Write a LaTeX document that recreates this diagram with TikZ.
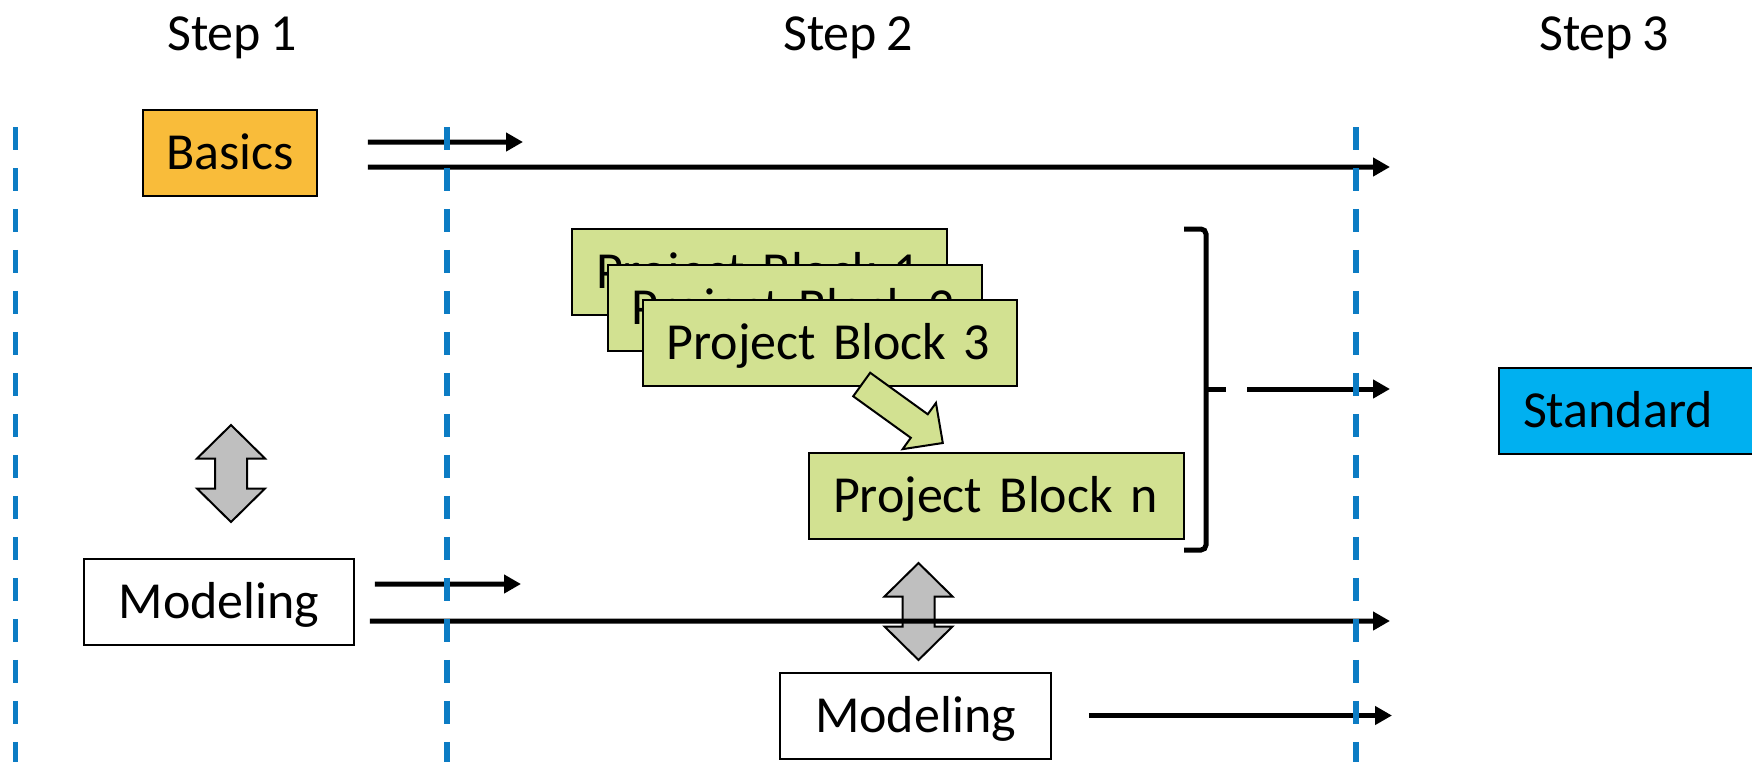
\documentclass[tikz,border=0pt]{standalone}
\usepackage{fontspec}
\setmainfont{Carlito}[WordSpace=0.8]
\usepackage{tikz}
\usetikzlibrary{arrows.meta,positioning}
\definecolor{basicsorange}{RGB}{249,188,58}
\definecolor{pbgreen}{RGB}{210,225,145}
\definecolor{stdblue}{RGB}{0,176,240}
\definecolor{stepblue}{RGB}{12,124,196}
\definecolor{dblgrey}{RGB}{191,191,191}
\tikzset{
    %Define standard arrow tip
    >={Triangle[length=3.4mm,width=3.6mm]},
    %Define style for boxes
    blok/.style={
           rectangle,
           draw=black, line width=0.04cm,
           minimum height=1.72cm,
           text height=0.87cm, text depth=0.2cm},
    projblok/.style={
           blok, fill=pbgreen,
           text width=6.54cm, inner xsep=0.48cm, align=left},
    % Define arrow style
    pil/.style={
           ->,
           line width=0.1cm},
}

\begin{document}
\begin{tikzpicture}[
x=0.02cm, y=-0.02cm,
font=\fontsize{29.6}{35}\selectfont,
steptxt/.style={text height=0.87cm, text depth=0.2cm},
stepline/.style={draw=stepblue, line width=0.11cm, dash pattern=on 0.46cm off 0.36cm},
dblpil/.style={draw=black, line width=0.04cm, fill=dblgrey},
blokpil/.style={draw=black, line width=0.04cm, fill=pbgreen},
brace/.style={line width=0.1cm, rounded corners=0.1cm}
]
\clip (0,0) rectangle (1752,762);
%Step labels
\node[steptxt] (step1) at (232,33.5) {Step 1};
\node[steptxt] (step2) at (848,33.5) {Step 2};
\node[steptxt] (step3) at (1604,33.5) {Step 3};
%Nodes
\node[blok, fill=basicsorange, minimum width=3.48cm] (basics) at (230,153) {Basics};
\node[blok, minimum width=5.4cm] (model1) at (219,602) {Modeling};
\node[blok, minimum width=5.42cm] (model2) at (915.5,715.5) {Modeling};
\node[projblok] (block1) at (759.5,272) {Project Block 1};
\node[projblok] (block2) at ([shift={(35.5,35.5)}]block1) {Project Block 2};
\node[projblok] (block3) at ([shift={(35,35)}]block2) {Project Block 3};
\draw[blokpil, shift={(861.7,384.5)}, rotate=-35.8] (0,-14.5) -- (71,-14.5) -- (71,-28.5) -- (100,0)
  -- (71,28.5) -- (71,14.5) -- (0,14.5) -- cycle;
\node[projblok] (blockn) at (996.5,495.5) {Project Block n};
\node[projblok, fill=stdblue, anchor=west] (standard) at (1498,411) {Standard};
% double arrows
\foreach \cx/\cy in {231/473.5, 918.5/611.5}
  \draw[dblpil, shift={(\cx,\cy)}] (0,-48.5) -- (34,-15) -- (16,-15) -- (16,15) -- (34,15) -- (0,48.5)
    -- (-34,15) -- (-16,15) -- (-16,-15) -- (-34,-15) -- cycle;
% brace
\draw[brace] (1184,229) -- (1206,229) -- (1206,550) -- (1184,550);
\draw[brace] (1206,389) -- (1226,389);
%Arrows
\coordinate (bshort) at (523,142);
\coordinate (blong) at (1390,167);
\coordinate (mshort) at (521,584);
\coordinate (mlong) at (1390,621);
\coordinate (m2end) at (1392,715.5);
\coordinate (bracetip) at (1247,389);
\coordinate (stdend) at (1390,389);
\draw[pil] ([xshift=1cm,yshift=0.22cm]basics.east) -- (bshort);
\draw[pil] ([xshift=1cm,yshift=-0.28cm]basics.east) -- (blong);
\draw[pil] ([xshift=0.4cm,yshift=0.36cm]model1.east) -- (mshort);
\draw[pil] ([xshift=0.3cm,yshift=-0.38cm]model1.east) -- (mlong);
\draw[pil] ([xshift=0.74cm]model2.east) -- (m2end);
\draw[pil] (bracetip) -- (stdend);
% step borders
\foreach \x in {15.5,447,1356}
  \draw[stepline] (\x,127) -- (\x,762);
\end{tikzpicture}
\end{document}
